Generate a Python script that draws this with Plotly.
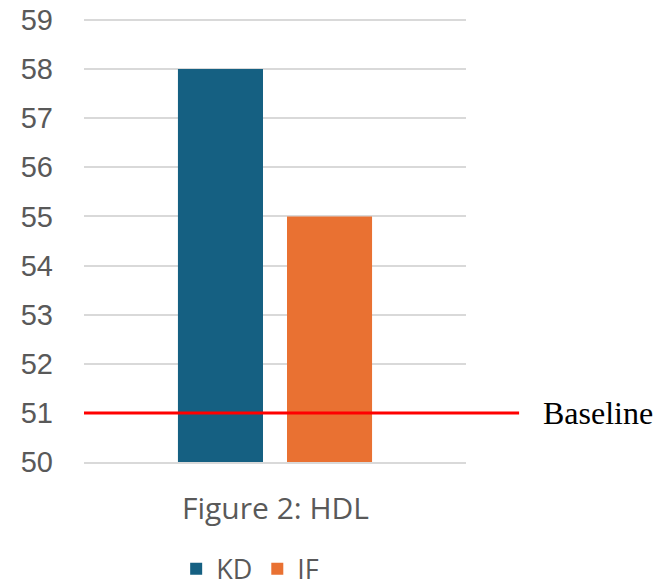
import plotly.graph_objects as go

# HDL values per diet group
groups = ["KD", "IF"]
hdl_values = [58, 55]
colors = ["#156082", "#E97132"]
baseline_value = 51
y_ticks = list(range(50, 60))

fig = go.Figure()
for name, val, col in zip(groups, hdl_values, colors):
    fig.add_trace(go.Bar(
        x=[""], y=[val], name=name,
        marker=dict(color=col, line=dict(width=0)),
    ))

fig.update_layout(
    width=669, height=588,
    margin=dict(l=84, r=203, t=15, b=126, autoexpand=False),
    paper_bgcolor="white", plot_bgcolor="white",
    barmode="group", bargap=0.429, bargroupgap=0.22,
    showlegend=True,
    legend=dict(orientation="h", x=0.435, xanchor="center",
                yref="container", y=0.032, yanchor="middle",
                font=dict(family="Open Sans", size=27, color="#595959"),
                traceorder="normal", itemwidth=30),
    font=dict(family="Liberation Sans"),
)
fig.update_yaxes(
    range=[50, 59.1], tickvals=y_ticks, showgrid=True, gridcolor="#d9d9d9", gridwidth=1.5,
    zeroline=False, showline=False,
    tickfont=dict(family="Liberation Sans", size=29, color="#595959"),
    ticklabelstandoff=30,
)
# the category axis line doubles as the gridline at 50
fig.update_xaxes(showticklabels=False, showgrid=False, zeroline=False,
                 showline=True, linecolor="#d9d9d9", linewidth=1.5)

# baseline reference line extending past the plot area
fig.add_shape(type="line", xref="paper", yref="y", x0=0, x1=1.139,
              y0=baseline_value, y1=baseline_value,
              line=dict(color="#ff0000", width=3))
fig.add_annotation(text="Baseline", xref="paper", yref="y", x=1.196, y=baseline_value,
                   xanchor="left", yanchor="middle", showarrow=False,
                   font=dict(family="Liberation Serif", size=32, color="black"))
fig.add_annotation(text="Figure 2: HDL", xref="paper", yref="paper", x=0.5, y=-0.1007,
                   xanchor="center", yanchor="middle", showarrow=False,
                   font=dict(family="Open Sans", size=30, color="#595959"))

fig.write_html("out.html")
